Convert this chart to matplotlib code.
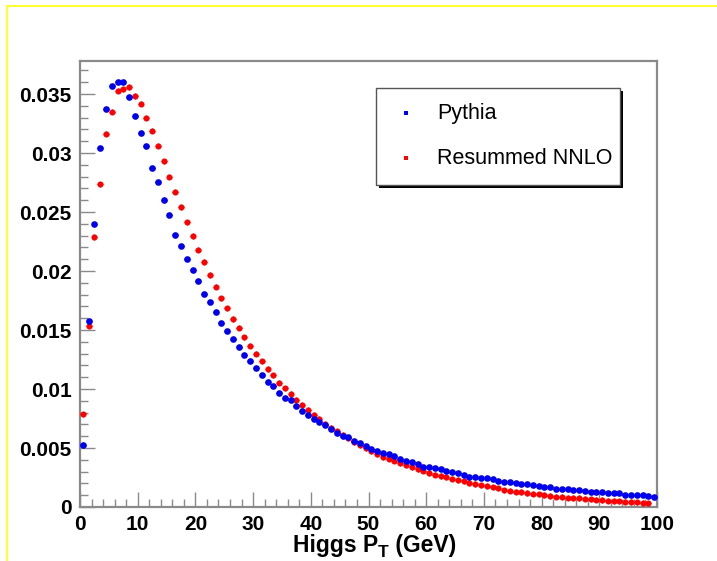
import matplotlib
matplotlib.use("Agg")
import matplotlib.pyplot as plt
from matplotlib.lines import Line2D
from matplotlib.patches import Rectangle
from matplotlib.ticker import MultipleLocator, FuncFormatter
import numpy as np

plt.rcParams['font.family'] = ['Liberation Sans', 'DejaVu Sans']

# ---- data ----
pythia_x = [i + 0.5 for i in range(100)]
pythia_y = [
    0.00528, 0.01576, 0.02400, 0.03040, 0.03375, 0.03568, 0.03600, 0.03604, 0.03475, 0.03316,
    0.03168, 0.03063, 0.02873, 0.02752, 0.02599, 0.02477, 0.02308, 0.02209, 0.02102, 0.02006,
    0.01913, 0.01802, 0.01740, 0.01650, 0.01562, 0.01490, 0.01421, 0.01359, 0.01286, 0.01237,
    0.01175, 0.01121, 0.01062, 0.01028, 0.00969, 0.00926, 0.00907, 0.00856, 0.00814, 0.00782,
    0.00748, 0.00718, 0.00695, 0.00664, 0.00627, 0.00604, 0.00591, 0.00562, 0.00545, 0.00520,
    0.00494, 0.00477, 0.00455, 0.00449, 0.00430, 0.00409, 0.00392, 0.00381, 0.00362, 0.00342,
    0.00342, 0.00330, 0.00319, 0.00302, 0.00297, 0.00285, 0.00274, 0.00257, 0.00257, 0.00246,
    0.00246, 0.00238, 0.00221, 0.00215, 0.00209, 0.00203, 0.00195, 0.00192, 0.00184, 0.00178,
    0.00167, 0.00170, 0.00153, 0.00150, 0.00150, 0.00141, 0.00141, 0.00136, 0.00127, 0.00124,
    0.00130, 0.00119, 0.00119, 0.00116, 0.00104, 0.00102, 0.00102, 0.00099, 0.00096, 0.00087,
]
nnlo_x = [i + 0.5 for i in range(99)]
nnlo_y = [
    0.00785, 0.01537, 0.02288, 0.02735, 0.03164, 0.03350, 0.03528, 0.03540, 0.03560, 0.03483,
    0.03418, 0.03300, 0.03189, 0.03062, 0.02930, 0.02799, 0.02672, 0.02542, 0.02413, 0.02297,
    0.02181, 0.02076, 0.01966, 0.01867, 0.01770, 0.01684, 0.01593, 0.01520, 0.01438, 0.01367,
    0.01299, 0.01235, 0.01169, 0.01116, 0.01053, 0.01006, 0.00958, 0.00909, 0.00864, 0.00822,
    0.00780, 0.00746, 0.00706, 0.00672, 0.00640, 0.00610, 0.00582, 0.00551, 0.00523, 0.00500,
    0.00472, 0.00449, 0.00424, 0.00409, 0.00392, 0.00373, 0.00353, 0.00336, 0.00319, 0.00308,
    0.00285, 0.00274, 0.00263, 0.00252, 0.00240, 0.00229, 0.00218, 0.00201, 0.00195, 0.00184,
    0.00178, 0.00167, 0.00157, 0.00141, 0.00138, 0.00130, 0.00127, 0.00119, 0.00113, 0.00108,
    0.00102, 0.00093, 0.00087, 0.00085, 0.00079, 0.00076, 0.00076, 0.00070, 0.00065, 0.00062,
    0.00059, 0.00053, 0.00051, 0.00048, 0.00045, 0.00042, 0.00040, 0.00034, 0.00031,
]
nnlo_err = 0.00022
bin_half = 0.5
labels = ["Pythia", "Resummed NNLO"]
xlabel_parts = ["Higgs P", "T", " (GeV)"]

W, H = 717, 561
fig = plt.figure(figsize=(W / 100, H / 100), dpi=100)
fig.patch.set_facecolor('white')

L, R, T, B = 80, 657, 61, 507
ax = fig.add_axes([L / W, 1 - B / H, (R - L) / W, (B - T) / H])
ax.set_xlim(0, 100)
ax.set_ylim(0, 0.0378)

frame_col = '#8a8a8a'
for s in ax.spines.values():
    s.set_color(frame_col)
    s.set_linewidth(1.6)

ax.errorbar(nnlo_x, nnlo_y, xerr=bin_half, yerr=nnlo_err, fmt='o', color='#ff0000',
            ms=4.4, mew=0, elinewidth=1.0, capsize=0, zorder=3)
ax.errorbar(pythia_x, pythia_y, xerr=bin_half, fmt='o', color='#0000ee',
            ms=4.8, mew=0, elinewidth=1.0, capsize=0, zorder=4)

ax.xaxis.set_major_locator(MultipleLocator(10))
ax.xaxis.set_minor_locator(MultipleLocator(2))
ax.yaxis.set_major_locator(MultipleLocator(0.005))
ax.yaxis.set_minor_locator(MultipleLocator(0.001))
ax.yaxis.set_major_formatter(FuncFormatter(lambda v, p: "%g" % round(v, 4)))
ax.tick_params(which='both', direction='in', color=frame_col, width=1.0,
               top=False, right=False, labelsize=15, pad=6)
ax.tick_params(which='major', length=11)
ax.tick_params(which='minor', length=6)
for lab in ax.get_xticklabels() + ax.get_yticklabels():
    lab.set_fontweight('bold')

# x-axis title built from pieces (big subscript like ROOT)
fig.canvas.draw()
rend = fig.canvas.get_renderer()
fs_main, fs_sub = 16.5, 12.5
base_y = 1 - 552 / H
pieces = [(xlabel_parts[0], fs_main, 0), (xlabel_parts[1], fs_sub, -5), (xlabel_parts[2], fs_main, 0)]
widths = []
for txt, fs, dy in pieces:
    t = fig.text(0, 0, txt, fontsize=fs, fontweight='bold')
    widths.append(t.get_window_extent(rend).width)
    t.remove()
total = sum(widths)
x0 = (L + R) / 2 + 6 - total / 2
for (txt, fs, dy), w in zip(pieces, widths):
    fig.text(x0 / W, base_y + dy / H, txt, fontsize=fs, fontweight='bold',
             ha='left', va='baseline')
    x0 += w

# legend box with shadow (figure pixel coords)
def px_rect(x0, y0, x1, y1, **kw):
    return Rectangle((x0 / W, 1 - y1 / H), (x1 - x0) / W, (y1 - y0) / H,
                     transform=fig.transFigure, **kw)

fig.add_artist(px_rect(379, 91, 623, 188, facecolor='black', edgecolor='none', zorder=5))
fig.add_artist(px_rect(376, 88, 620, 185, facecolor='white', edgecolor='#555555',
                       linewidth=1.0, zorder=6))
fig.add_artist(Line2D([406 / W], [1 - 113 / H], marker='s', ms=2.5, color='#0000ee',
                      mew=0, transform=fig.transFigure, zorder=7))
fig.add_artist(Line2D([406 / W], [1 - 158 / H], marker='s', ms=2.5, color='#ff0000',
                      mew=0, transform=fig.transFigure, zorder=7))
fig.text(437 / W, 1 - 113 / H, labels[0], ha='left', va='center', fontsize=15.5, zorder=7)
fig.text(437 / W, 1 - 158 / H, labels[1], ha='left', va='center', fontsize=15.5, zorder=7)

# yellow canvas border
ycol = '#ffff33'
fig.add_artist(Line2D([7 / W, 1.0], [1 - 6 / H, 1 - 6 / H], color=ycol, lw=1.5,
                      transform=fig.transFigure))
fig.add_artist(Line2D([7 / W, 7 / W], [1 - 6 / H, 0.0], color=ycol, lw=1.5,
                      transform=fig.transFigure))

fig.savefig('out.png', dpi=100)
